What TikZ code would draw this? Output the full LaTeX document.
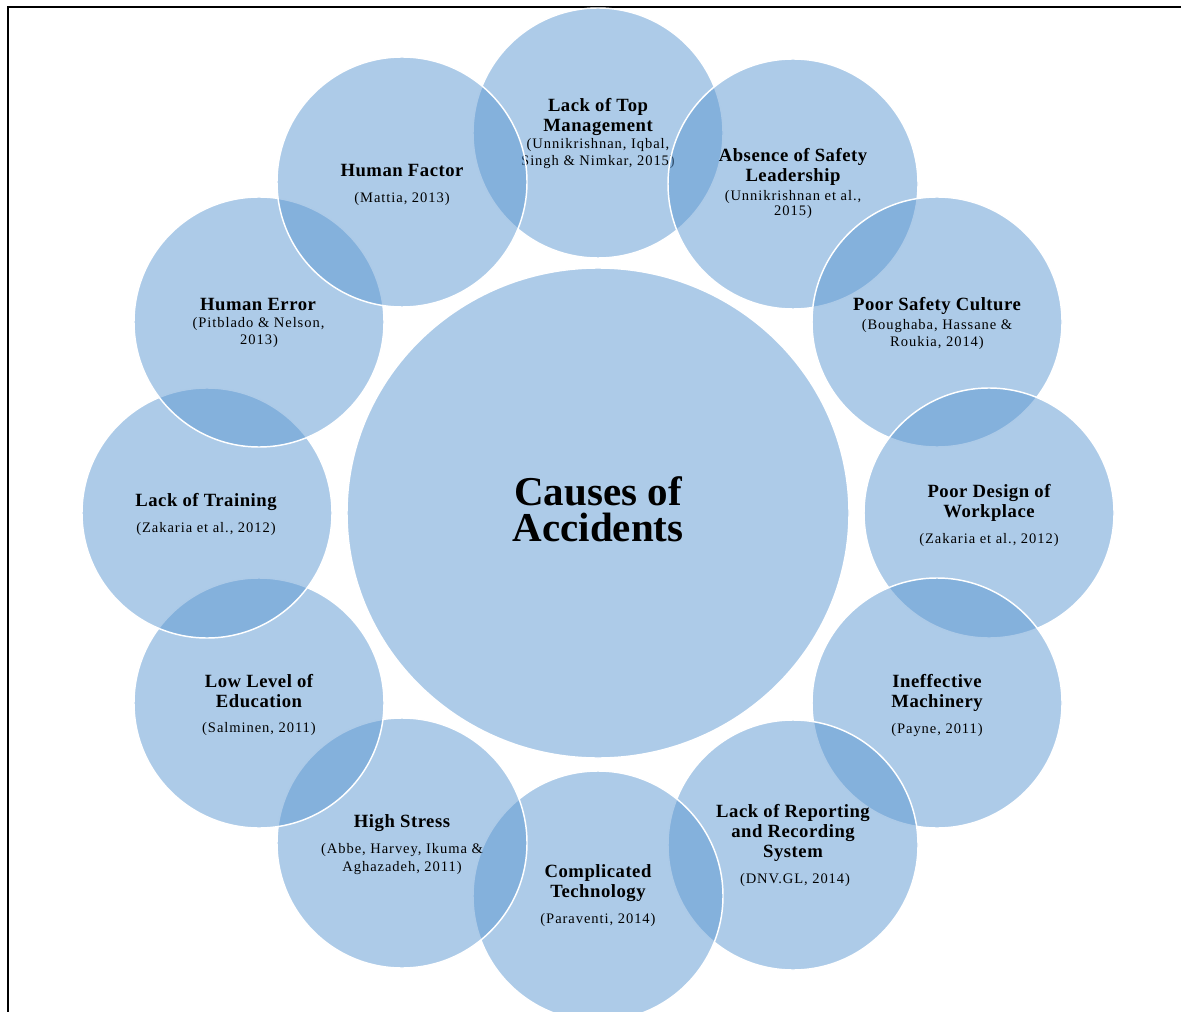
\documentclass[tikz,border=0pt]{standalone}
\usepackage{fontspec}
\setmainfont{Liberation Serif}
\newfontfamily\ttlfont[LetterSpace=2.8]{Liberation Serif}
\newfontfamily\citfont[LetterSpace=6.5]{Liberation Serif}
\usetikzlibrary{shapes.geometric}
\definecolor{bub}{RGB}{91,151,209}
\tikzset{
  bubble/.style={circle, minimum size=187.5pt, inner sep=0pt, fill=bub, fill opacity=0.5,
    draw=white, draw opacity=1, line width=1.1pt},
  mainbub/.style={ellipse, minimum width=376.5pt, minimum height=367.5pt, inner sep=0pt,
    fill=bub, fill opacity=0.5, draw=white, draw opacity=1, line width=1.1pt},
  ttl/.style={anchor=base, inner sep=0pt, font=\ttlfont\bfseries\fontsize{14}{15}\selectfont},
  cit/.style={anchor=base, inner sep=0pt, font=\citfont\fontsize{10.9}{12}\selectfont},
  big/.style={anchor=center, inner sep=0pt, align=center, font=\bfseries\fontsize{30.75}{27}\selectfont},
  frameline/.style={draw=black, line width=1.5pt}
}
\begin{document}
\begin{tikzpicture}[x=0.75pt, y=-0.75pt]
\useasboundingbox (0,0) rectangle (1181,1012);
\coordinate (fa) at (7.5,1012);
\coordinate (fb) at (7.5,7.5);
\coordinate (fc) at (1181,7.5);
\draw[frameline] (fa) -- (fb) -- (fc);

% central
\node[mainbub] (main) at (598,513) {};
\node[big] (mtitle) at (598,509) {Causes of\\Accidents};

% 1
\node[bubble] (c1) at (598,133) {};
\node[ttl] (t1a) at (598,112) {Lack of Top};
\node[ttl] (t1b) at (598,132) {Management};
\node[cit] (r1a) at (598,149) {(Unnikrishnan, Iqbal,};
\node[cit] (r1b) at (598,166) {Singh \& Nimkar, 2015)};
% 2
\node[bubble] (c2) at (793,184) {};
\node[ttl] (t2a) at (793,162) {Absence of Safety};
\node[ttl] (t2b) at (793,181.5) {Leadership};
\node[cit] (r2a) at (793,200.5) {(Unnikrishnan et al.,};
\node[cit] (r2b) at (793,216) {2015)};
% 3
\node[bubble] (c3) at (937,322) {};
\node[ttl] (t3a) at (937,311) {Poor Safety Culture};
\node[cit] (r3a) at (937,330) {(Boughaba, Hassane \&};
\node[cit] (r3b) at (937,347) {Roukia, 2014)};
% 4
\node[bubble] (c4) at (989,513) {};
\node[ttl] (t4a) at (989,497) {Poor Design of};
\node[ttl] (t4b) at (989,517) {Workplace};
\node[cit] (r4a) at (989,543) {(Zakaria et al., 2012)};
% 5
\node[bubble] (c5) at (937,703) {};
\node[ttl] (t5a) at (937,687) {Ineffective};
\node[ttl] (t5b) at (937,707) {Machinery};
\node[cit] (r5a) at (937,733) {(Payne, 2011)};
% 6
\node[bubble] (c6) at (793,845) {};
\node[ttl] (t6a) at (793,817) {Lack of Reporting};
\node[ttl] (t6b) at (793,837) {and Recording};
\node[ttl] (t6c) at (793,857) {System};
\node[cit] (r6a) at (795,883) {(DNV.GL, 2014)};
% 7
\node[bubble] (c7) at (598,896) {};
\node[ttl] (t7a) at (598,877) {Complicated};
\node[ttl] (t7b) at (598,897) {Technology};
\node[cit] (r7a) at (598,923) {(Paraventi, 2014)};
% 8
\node[bubble] (c8) at (402,843) {};
\node[ttl] (t8a) at (402,827) {High Stress};
\node[cit] (r8a) at (402,853) {(Abbe, Harvey, Ikuma \&};
\node[cit] (r8b) at (402,871) {Aghazadeh, 2011)};
% 9
\node[bubble] (c9) at (259,703) {};
\node[ttl] (t9a) at (259,687) {Low Level of};
\node[ttl] (t9b) at (259,707) {Education};
\node[cit] (r9a) at (259,732) {(Salminen, 2011)};
% 10
\node[bubble] (c10) at (207,513) {};
\node[ttl] (t10a) at (206,506) {Lack of Training};
\node[cit] (r10a) at (206,532) {(Zakaria et al., 2012)};
% 11
\node[bubble] (c11) at (259,322) {};
\node[ttl] (t11a) at (258,311) {Human Error};
\node[cit] (r11a) at (258.5,328) {(Pitblado \& Nelson,};
\node[cit] (r11b) at (259,345) {2013)};
% 12
\node[bubble] (c12) at (402,182) {};
\node[ttl] (t12a) at (402,177) {Human Factor};
\node[cit] (r12a) at (402,203) {(Mattia, 2013)};
\end{tikzpicture}
\end{document}
